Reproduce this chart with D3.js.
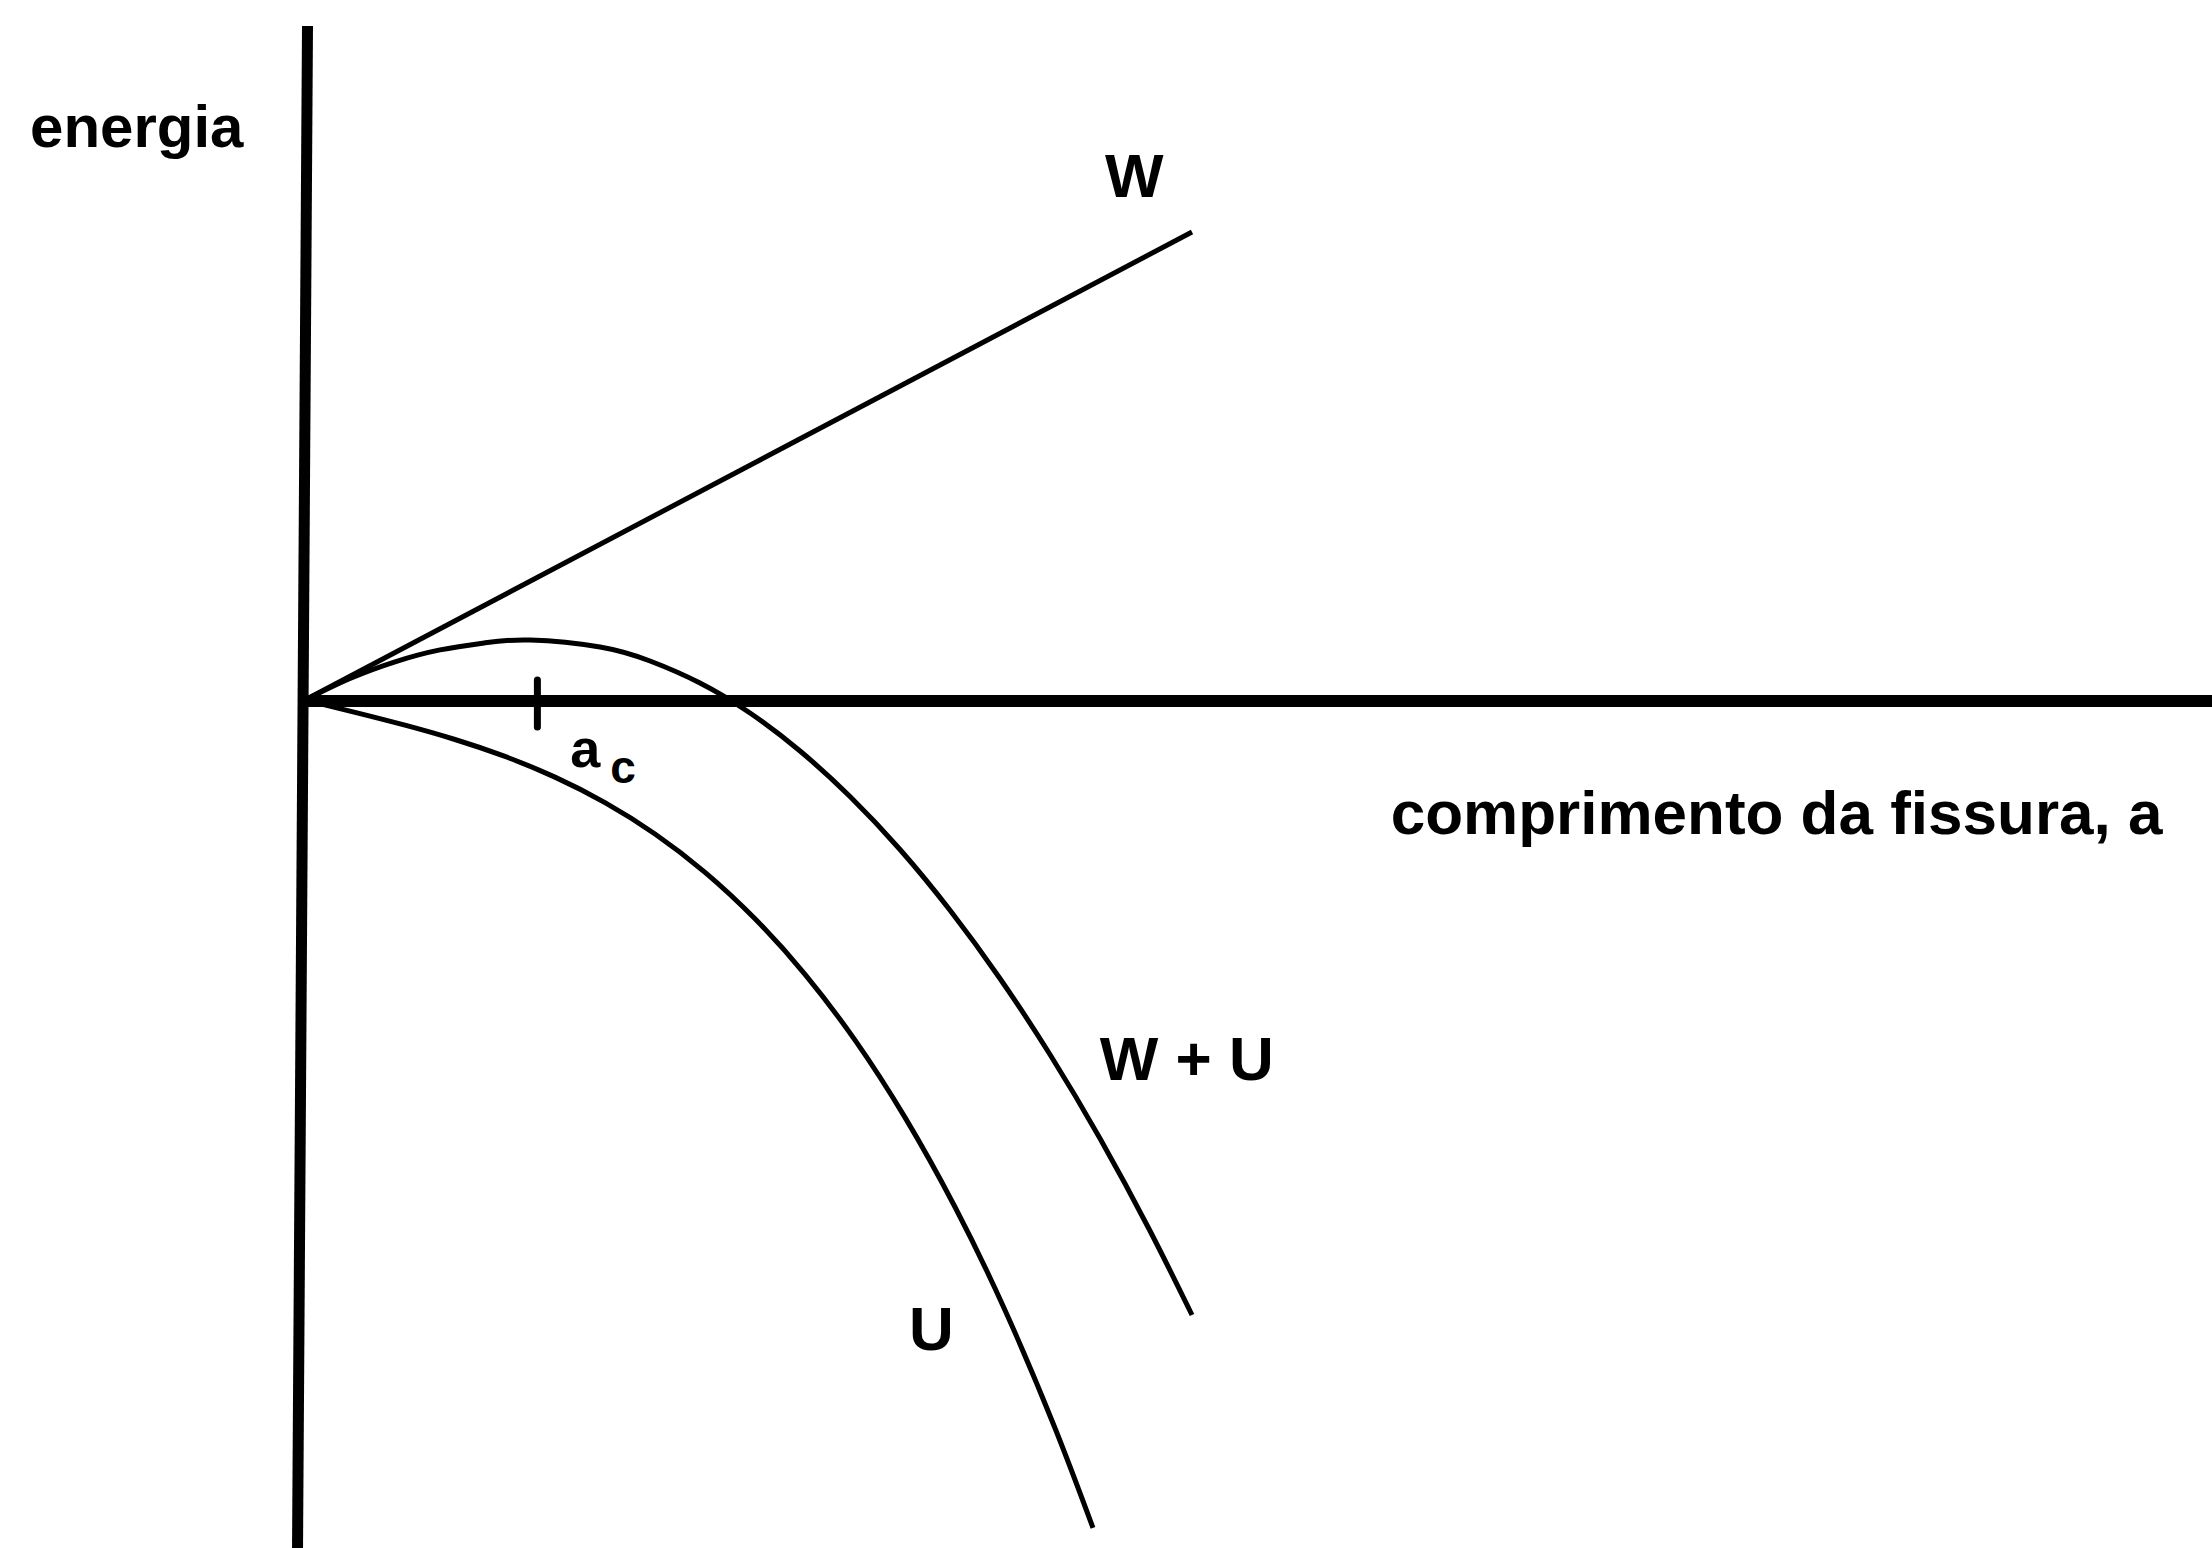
<!DOCTYPE html>
<html>
<head>
<meta charset="utf-8">
<script src="https://cdn.jsdelivr.net/npm/d3@7"></script>
<style>
  html, body { margin: 0; padding: 0; background: #fff; }
  svg { display: block; }
</style>
</head>
<body>
<svg id="chart" width="2212" height="1548"></svg>
<script>
// Crack length a (arbitrary units) and the energy terms of the Griffith balance.
const wA  = [0, 10];
const wE  = [0, 10];

const wuA = [0, 0.507, 1.015, 1.522, 2.029, 2.537, 3.326, 3.890, 4.453, 5.017, 5.581, 6.144, 6.708, 7.272, 7.835, 8.399, 8.963, 9.526, 10];
const wuE = [0, 0.459, 0.816, 1.070, 1.222, 1.282, 1.132, 0.833, 0.363, -0.278, -1.090, -2.062, -3.194, -4.493, -5.951, -7.575, -9.370, -11.341, -13.141];

const uA  = [0, 0.564, 1.127, 1.691, 2.255, 2.818, 3.382, 3.946, 4.510, 5.073, 5.637, 6.201, 6.764, 7.328, 7.892, 8.455, 8.884];
const uE  = [0, -0.264, -0.538, -0.844, -1.206, -1.648, -2.192, -2.862, -3.682, -4.674, -5.862, -7.269, -8.919, -10.834, -13.039, -15.556, -17.692];

// critical crack length (maximum of W + U)
const acValue = 2.62;

// axis extents in data units
const xExtent = [0, 21.6];
const yExtent = [-18.2, 14.4];

// label texts with their anchors in data units
const labelText = ["energia", "W", "W + U", "U", "comprimento da fissura, a"];
const labelA    = [-3.1, 9.02, 8.96, 6.81, 12.24];
const labelE    = [11.82, 10.75, -8.12, -13.89, -2.86];
const labelSize = [60, 62, 62, 62, 62];

const svg = d3.select("#chart");

const x = d3.scaleLinear().domain([0, 10]).range([305, 1192]);
const y = d3.scaleLinear().domain([0, 10]).range([700, 232]);

const line = d3.line()
  .x(d => x(d[0]))
  .y(d => y(d[1]))
  .curve(d3.curveNatural);

// axes
svg.append("line")
  .attr("x1", x(0) - 2).attr("y1", y(0) + 1)
  .attr("x2", x(xExtent[1])).attr("y2", y(0) + 1)
  .attr("stroke", "#000").attr("stroke-width", 12);

svg.append("line")
  .attr("x1", x(0) + 2.5).attr("y1", y(yExtent[1]))
  .attr("x2", x(0) - 7.5).attr("y2", y(yExtent[0]))
  .attr("stroke", "#000").attr("stroke-width", 11);

// energy curves
const series = [
  d3.zip(wA, wE),
  d3.zip(wuA, wuE),
  d3.zip(uA, uE)
];

svg.selectAll("path.curve")
  .data(series)
  .join("path")
  .attr("class", "curve")
  .attr("d", line)
  .attr("fill", "none")
  .attr("stroke", "#000")
  .attr("stroke-width", 5)
  .attr("stroke-linejoin", "round");

// marker for the critical crack length
svg.append("line")
  .attr("x1", x(acValue)).attr("x2", x(acValue))
  .attr("y1", y(0) - 20).attr("y2", y(0) + 27)
  .attr("stroke", "#000").attr("stroke-width", 7)
  .attr("stroke-linecap", "round");

const font = "'Liberation Sans', Arial, Helvetica, sans-serif";

svg.selectAll("text.lbl")
  .data(labelText)
  .join("text")
  .attr("class", "lbl")
  .attr("x", (d, i) => x(labelA[i]))
  .attr("y", (d, i) => y(labelE[i]))
  .attr("font-family", font)
  .attr("font-weight", "bold")
  .attr("font-size", (d, i) => labelSize[i])
  .attr("fill", "#000")
  .text(d => d);

// a with subscript c
const ac = svg.append("text")
  .attr("x", x(2.99))
  .attr("y", y(-1.43))
  .attr("font-family", font)
  .attr("font-weight", "bold")
  .attr("font-size", 54)
  .attr("fill", "#000");
ac.append("tspan").text("a");
ac.append("tspan")
  .attr("dx", 10).attr("dy", 16)
  .attr("font-size", 46)
  .text("c");
</script>
</body>
</html>
